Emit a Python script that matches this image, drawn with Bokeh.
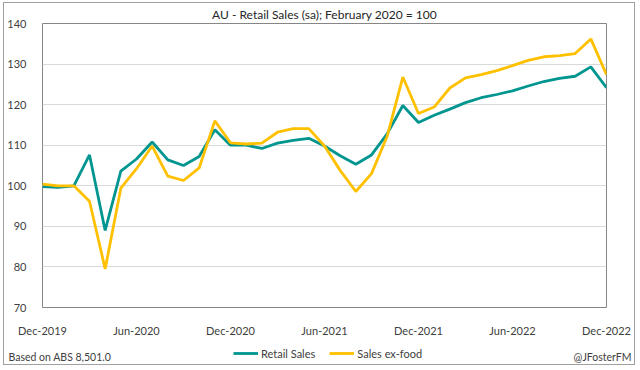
from bokeh.plotting import figure
from bokeh.models import Range1d, FixedTicker, Label, Legend, LegendItem
from bokeh.layouts import column, row
from bokeh.embed import file_html
from bokeh.resources import INLINE

months = ["Dec-2019", "Jan-2020", "Feb-2020", "Mar-2020", "Apr-2020", "May-2020",
          "Jun-2020", "Jul-2020", "Aug-2020", "Sep-2020", "Oct-2020", "Nov-2020",
          "Dec-2020", "Jan-2021", "Feb-2021", "Mar-2021", "Apr-2021", "May-2021",
          "Jun-2021", "Jul-2021", "Aug-2021", "Sep-2021", "Oct-2021", "Nov-2021",
          "Dec-2021", "Jan-2022", "Feb-2022", "Mar-2022", "Apr-2022", "May-2022",
          "Jun-2022", "Jul-2022", "Aug-2022", "Sep-2022", "Oct-2022", "Nov-2022",
          "Dec-2022"]
retail_sales = [99.8, 99.6, 100.0, 107.6, 89.0, 103.6, 106.6, 110.8, 106.4, 105.0,
                107.2, 113.8, 110.0, 110.0, 109.2, 110.5, 111.2, 111.7, 109.8, 107.4,
                105.3, 107.6, 112.8, 119.8, 115.6, 117.4, 118.9, 120.5, 121.7, 122.5,
                123.4, 124.6, 125.7, 126.5, 127.0, 129.3, 124.2]
sales_ex_food = [100.4, 100.0, 100.0, 96.2, 79.5, 99.4, 104.2, 109.8, 102.4, 101.3,
                 104.4, 116.0, 110.6, 110.3, 110.5, 113.2, 114.1, 114.1, 109.8, 103.8,
                 98.6, 103.0, 112.2, 126.8, 117.8, 119.4, 124.1, 126.6, 127.4, 128.4,
                 129.6, 130.9, 131.8, 132.1, 132.6, 136.2, 127.4]
tick_labels = ["Dec-2019", "Jun-2020", "Dec-2020", "Jun-2021", "Dec-2021", "Jun-2022", "Dec-2022"]
y_ticks = [70, 80, 90, 100, 110, 120, 130, 140]
series_names = ["Retail Sales", "Sales ex-food"]

FONT = "Lato"
TEAL = "#00958f"
GOLD = "#ffc000"
TXT = "#404040"
LW = 2.8

x = list(range(len(months)))
tick_pos = [months.index(t) for t in tick_labels]

W = 630
p = figure(width=W, height=336, output_backend="svg", toolbar_location=None,
           x_range=Range1d(0, len(months) - 1), y_range=Range1d(70, 140),
           min_border_left=38, min_border_right=28, min_border_top=20, min_border_bottom=26)
p.title.text = "AU - Retail Sales (sa); February 2020 = 100"
p.title.align = "center"
p.title.text_font = FONT
p.title.text_font_size = "12px"
p.title.text_font_style = "normal"
p.title.text_color = "#262626"
p.title.standoff = 3
p.title.offset = -3
p.background_fill_color = "white"
p.border_fill_color = "white"
p.outline_line_color = "#868686"
p.outline_line_width = 1

p.xaxis.ticker = FixedTicker(ticks=tick_pos)
p.xaxis.major_label_overrides = {i: m for i, m in zip(tick_pos, tick_labels)}
p.yaxis.ticker = FixedTicker(ticks=y_ticks)
for ax in (p.xaxis, p.yaxis):
    ax.axis_line_color = None
    ax.major_tick_line_color = None
    ax.minor_tick_line_color = None
    ax.major_label_text_font = FONT
    ax.major_label_text_font_size = "11px"
    ax.major_label_text_color = TXT
p.xaxis.major_label_standoff = 10
p.yaxis.major_label_standoff = 10
p.xgrid.grid_line_color = None
p.ygrid.grid_line_color = "#d9d9d9"
p.ygrid.grid_line_width = 1

p.line(x, retail_sales, line_color=TEAL, line_width=LW)
p.line(x, sales_ex_food, line_color=GOLD, line_width=LW)

# footer strip holding the legend and the source / author notes
f = figure(width=W, height=25, output_backend="svg", toolbar_location=None,
           x_axis_location=None, y_axis_location=None,
           x_range=Range1d(0, len(months) - 1), y_range=Range1d(70, 140),
           min_border_left=0, min_border_right=0, min_border_top=0, min_border_bottom=0)
f.grid.visible = False
f.outline_line_color = None
f.background_fill_color = "white"
f.border_fill_color = "white"
# legend keys only (not drawn in the strip)
k1 = f.line(x, retail_sales, line_color=TEAL, line_width=LW, visible=False)
k2 = f.line(x, sales_ex_food, line_color=GOLD, line_width=LW, visible=False)
legend = Legend(items=[LegendItem(label=series_names[0], renderers=[k1]),
                       LegendItem(label=series_names[1], renderers=[k2])],
                orientation="horizontal", location=(229, 4),
                label_text_font=FONT, label_text_font_size="11px",
                label_text_color=TXT, glyph_width=25, glyph_height=14,
                label_standoff=3, spacing=14, padding=0, margin=0,
                border_line_color=None, background_fill_alpha=0,
                click_policy="none")
f.add_layout(legend, "center")
f.add_layout(Label(x=4, y=8, x_units="screen", y_units="screen",
                   text="Based on ABS 8,501.0", text_font=FONT, text_font_size="10.5px",
                   text_color=TXT, text_align="left", text_baseline="middle"))
f.add_layout(Label(x=627, y=8, x_units="screen", y_units="screen",
                   text="@JFosterFM", text_font=FONT, text_font_size="10.5px",
                   text_color=TXT, text_align="right", text_baseline="middle"))

layout = column(p, row(f), spacing=0)
layout.styles = {"border": "1px solid #a0a0a0", "margin-left": "3px", "margin-top": "2px"}
open("out.html", "w").write(file_html(layout, INLINE))
